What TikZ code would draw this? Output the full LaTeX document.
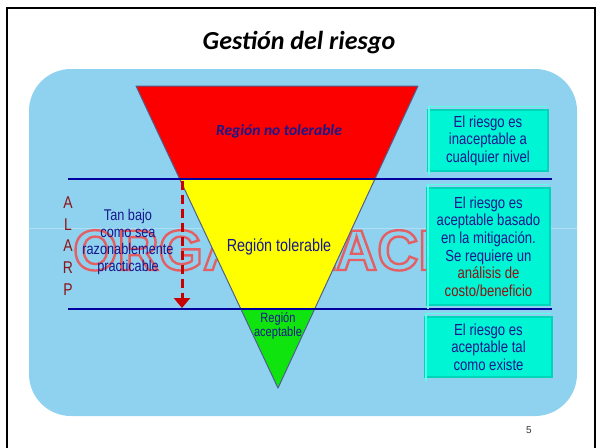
\documentclass[tikz,border=0pt]{standalone}
\usepackage{fontspec}
\setmainfont{Liberation Sans}
\newfontfamily\calib{Carlito}
\newfontfamily\narrow[FakeStretch=0.82]{Liberation Sans}
\usetikzlibrary{arrows.meta}
\definecolor{bgblue}{RGB}{142,210,240}
\definecolor{navy}{RGB}{24,24,140}
\definecolor{dkred}{RGB}{140,20,20}
\definecolor{arrred}{RGB}{200,0,0}
\definecolor{boxcyan}{RGB}{0,245,212}
\definecolor{boxedge}{RGB}{0,212,185}
\definecolor{boxlight}{RGB}{90,255,230}
\definecolor{lineblue}{RGB}{0,0,160}
\definecolor{triedge}{RGB}{80,95,140}
\definecolor{wmred}{RGB}{228,95,100}
\definecolor{trired}{RGB}{252,0,0}
\definecolor{triyel}{RGB}{255,255,0}
\definecolor{trigrn}{RGB}{15,228,15}
\tikzset{
  riskbox/.style={rectangle, fill=boxcyan, draw=boxedge, line width=2pt, inner sep=0pt,
    text=navy, align=center, font=\narrow\fontsize{16}{17.6}\selectfont},
  sepline/.style={draw=lineblue, line width=2.4pt},
  region/.style={draw=triedge, line width=1pt, line join=round},
}
\begin{document}
\begin{tikzpicture}[x=1pt,y=-1pt]
\useasboundingbox (0,0) rectangle (596,447);
\fill[white] (0,0) rectangle (596,447);
\draw[black, line width=2pt] (7,8) rectangle (594.5,480);
% background
\fill[bgblue, rounded corners=42pt] (29,69) rectangle (577,416);
\draw[white, opacity=0.3, line width=0.8pt] (29,228) -- (577,228);
% watermark
\node[anchor=west, inner sep=0pt, text=wmred, font=\fontsize{57}{57}\selectfont\bfseries] (wm) at (73,245)
  {\special{pdf:literal direct 1 Tr 2.4 w}ORGANIZACIÓN\special{pdf:literal direct 0 Tr}};
% triangle coordinates
\coordinate (T1) at (136,86);
\coordinate (T2) at (418,86);
\coordinate (V) at (278,388);
\coordinate (H1a) at (68,179);
\coordinate (H1b) at (552,179);
\coordinate (H2a) at (68,309);
\coordinate (H2b) at (552,309);
\coordinate (L1) at (intersection of T1--V and H1a--H1b);
\coordinate (R1) at (intersection of T2--V and H1a--H1b);
\coordinate (L2) at (intersection of T1--V and H2a--H2b);
\coordinate (R2) at (intersection of T2--V and H2a--H2b);
\filldraw[region, fill=trired] (T1) -- (T2) -- (R1) -- (L1) -- cycle;
\filldraw[region, fill=triyel] (L1) -- (R1) -- (R2) -- (L2) -- cycle;
\filldraw[region, fill=trigrn] (L2) -- (R2) -- (V) -- cycle;
% separator lines
\draw[sepline] (H1a) -- (H1b);
\draw[sepline] (H2a) -- (H2b);
% arrow
\coordinate (a1) at (182,180.5);
\coordinate (a2) at (182,308);
\draw[arrred, line width=3pt, dash pattern=on 9pt off 5pt,
  -{Triangle[width=16pt,length=10pt]}] (a1) -- (a2);
% title
\node[font=\calib\bfseries\itshape\fontsize{26}{26}\selectfont] (title) at (299,43) {Gestión del riesgo};
% region texts
\node[text=navy, font=\calib\bfseries\itshape\fontsize{15.5}{15.5}\selectfont] (nt) at (279,131) {Región no tolerable};
\node[text=navy, font=\narrow\fontsize{17.5}{17.5}\selectfont] (tol) at (279,247) {Región tolerable};
\node[text=navy, align=center, font=\narrow\fontsize{13.5}{14}\selectfont] (acc) at (278,326) {Región\\aceptable};
\node[text=navy, align=center, font=\narrow\fontsize{15.5}{16.7}\selectfont] (tan) at (128,242) {Tan bajo\\como sea\\razonablemente\\practicable};
\node[text=dkred, align=center, font=\narrow\fontsize{17}{21.7}\selectfont] (alarp) at (68,246) {A\\L\\A\\R\\P};
% boxes
\node[riskbox, minimum width=120pt, minimum height=61pt] (b1) at (488,140.5)
  {El riesgo es\\inaceptable a\\cualquier nivel};
\node[riskbox, minimum width=123pt, minimum height=117pt] (b2) at (488.5,246.5)
  {El riesgo es\\aceptable basado\\en la mitigación.\\Se requiere un\\\textcolor{dkred}{análisis de}\\\textcolor{dkred}{costo/beneficio}};
\node[riskbox, minimum width=127pt, minimum height=60pt] (b3) at (488.5,347)
  {El riesgo es\\aceptable tal\\como existe};
% bevel highlights on the boxes
\foreach \b in {b1,b2,b3}{
  \draw[boxlight, line width=1.2pt] ([xshift=2pt,yshift=-2.5pt]\b.south west) -- ([xshift=2pt,yshift=2.5pt]\b.north west) -- ([xshift=-2pt,yshift=2.5pt]\b.north east);
}
% page number
\node[text=black!80, font=\fontsize{10}{10}\selectfont] (pg) at (529,430) {5};
\end{tikzpicture}
\end{document}
